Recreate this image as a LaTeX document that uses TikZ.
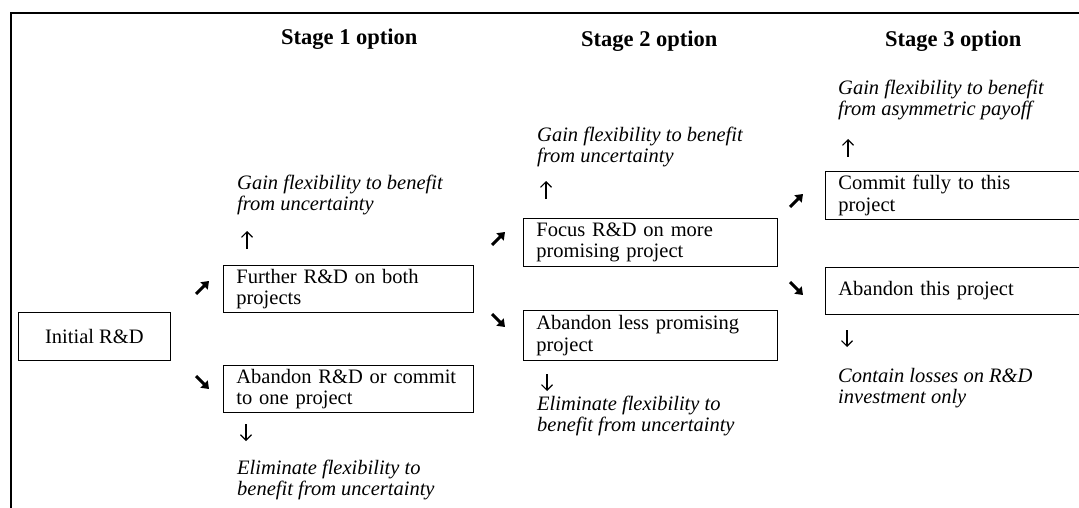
\documentclass[tikz,border=0pt]{standalone}
\usepackage{fontspec}
\setmainfont{Liberation Serif}
\usetikzlibrary{arrows.meta}
\newcommand\fst{\rule{0pt}{15pt}}
\tikzset{
  bodyfont/.style={font=\fontsize{20.5}{21.5}\selectfont},
  head/.style={font=\fontsize{22.5}{24}\selectfont\bfseries, anchor=base west, inner sep=0pt},
  note/.style={font=\fontsize{20.5}{21.5}\selectfont\itshape, anchor=north west, inner sep=0pt, align=left},
  optbox/.style={draw, line width=0.8pt, rectangle, anchor=north west, bodyfont,
                 inner xsep=13pt, inner ysep=0pt, align=left, minimum height=47pt},
  fatarrow/.style={line width=3pt, -{Triangle[length=7pt,width=10pt]}},
  thinarrow/.style={line width=1.1pt, -{Straight Barb[length=5.5pt,width=11pt]}},
  frame/.style={line width=2.4pt}
}
\begin{document}
\begin{tikzpicture}[x=1pt,y=-1pt]
\useasboundingbox (0,0) rectangle (1079,508);
\clip (0,0) rectangle (1079,508);
% frame
\draw[frame] (11,530) -- (11,13) -- (1100,13);
% headers
\node[head] (h1) at (281,45) {Stage 1 option};
\node[head] (h2) at (581,47) {Stage 2 option};
\node[head] (h3) at (885,47) {Stage 3 option};
% initial
\node[draw, line width=0.8pt, bodyfont, anchor=north west, minimum width=152pt, minimum height=48pt, inner sep=0pt] (init) at (18,312) {Initial R\&D};
% stage 1
\node[optbox, text width=224pt] (s1a) at (223,265) {Further R\&D on both\\projects};
\node[optbox, text width=224pt] (s1b) at (223,365) {Abandon R\&D or commit\\to one project};
\node[note] (g1) at (237,174) {\fst Gain flexibility to benefit\\from uncertainty};
\node[note] (e1) at (237,459) {\fst Eliminate flexibility to\\benefit from uncertainty};
\draw[fatarrow] (196,294) -- (209,281);
\draw[fatarrow] (196,376) -- (209,389);
\draw[thinarrow] (247,249) -- (247,231);
\draw[thinarrow] (246,424) -- (246,441);
% stage 2
\node[optbox, text width=228pt, minimum height=48pt] (s2a) at (523,218) {Focus R\&D on more\\promising project};
\node[optbox, text width=228pt, minimum height=50pt] (s2b) at (523,310) {Abandon less promising\\project};
\node[note] (g2) at (537,126) {\fst Gain flexibility to benefit\\from uncertainty};
\node[note] (e2) at (537,395) {\fst Eliminate flexibility to\\benefit from uncertainty};
\draw[fatarrow] (492,245) -- (505,232);
\draw[fatarrow] (492,314) -- (505,327);
\draw[thinarrow] (546,199) -- (546,181);
\draw[thinarrow] (547,374) -- (547,391);
% stage 3
\node[optbox, text width=300pt, minimum height=48pt] (s3a) at (825,171) {Commit fully to this\\project};
\node[optbox, text width=300pt] (s3b) at (825,267) {Abandon this project};
\node[note] (g3) at (838,79) {\fst Gain flexibility to benefit\\from asymmetric payoff};
\node[note] (c3) at (838,367) {\fst Contain losses on R\&D\\investment only};
\draw[fatarrow] (790,207) -- (803,194);
\draw[fatarrow] (790,282) -- (803,295);
\draw[thinarrow] (848,157) -- (848,139);
\draw[thinarrow] (847,330) -- (847,347);
\end{tikzpicture}
\end{document}
